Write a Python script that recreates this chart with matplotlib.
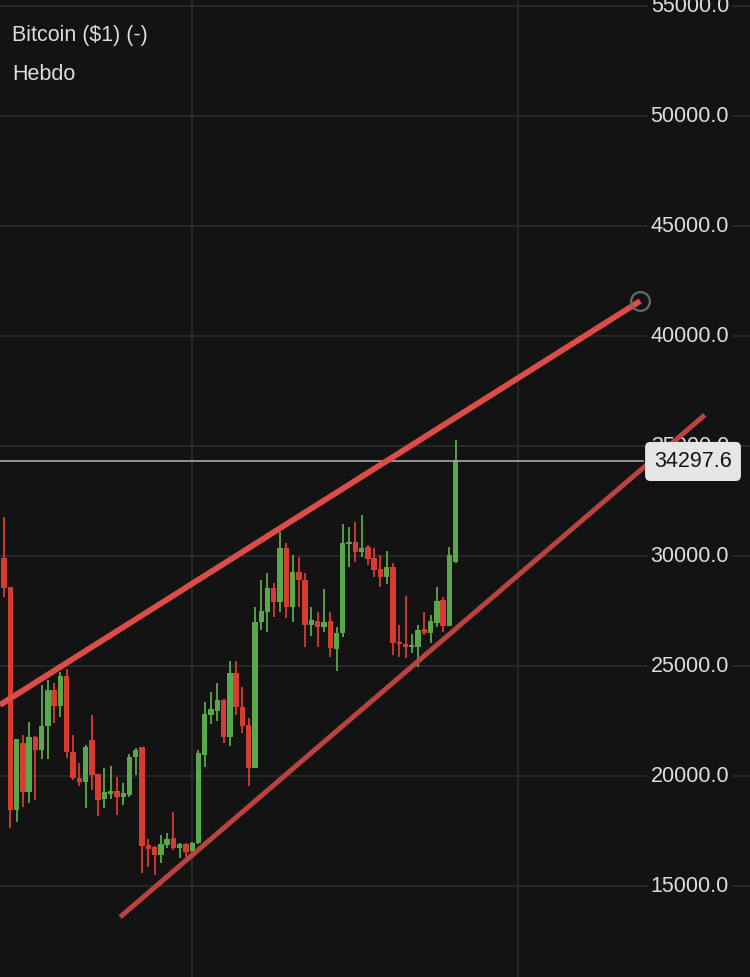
import matplotlib
matplotlib.use("Agg")
import matplotlib.pyplot as plt
import numpy as np

# ---------------- data ----------------
title = "Bitcoin ($1) (-)"
subtitle = "Hebdo"

opens = [29910, 28590, 18455, 21500, 19270, 21770, 21180, 22270, 23910, 23180,
         24550, 21090, 19910, 19730, 21640, 20090, 18955, 19180, 19320, 19045,
         19140, 20865, 21320, 16865, 16770, 16410, 16865, 17180, 16730, 16910,
         16590, 16955, 20955, 22770, 22950, 23450, 21770, 24680, 23140, 22320,
         20360, 27000, 27450, 28545, 27910, 30360, 27680, 29270, 28910, 26860,
         27045, 26770, 27045, 25770, 26500, 30545, 30640, 30180, 30410, 29910,
         29410, 29045, 29500, 26090, 26000, 25860, 25860, 26680, 26500, 26950,
         28000, 26820, 29730]
highs = [31770, 28590, 21700, 21860, 22450, 21800, 24140, 24360, 24230, 24730,
         24860, 21860, 20590, 21410, 22770, 20090, 20360, 20450, 19955, 19680,
         21000, 21270, 21320, 17140, 16800, 17320, 17410, 18360, 16950, 16950,
         17000, 21180, 23360, 23800, 24250, 23500, 25250, 25230, 24045, 22640,
         27680, 28910, 29230, 28770, 31090, 30590, 30045, 29950, 29230, 27680,
         27450, 28500, 27450, 26770, 31450, 31320, 31545, 31860, 30500, 30360,
         30045, 30230, 29680, 26860, 28180, 26450, 26860, 27450, 27320, 28590,
         28140, 30410, 35270]
lows = [28140, 17640, 17910, 18590, 18770, 18900, 20770, 20770, 22410, 22680,
        20820, 19820, 19545, 18545, 19360, 18180, 18545, 18955, 18230, 18680,
        19045, 20045, 15590, 15865, 15500, 16045, 16730, 16640, 16270, 16320,
        16450, 16910, 20410, 22360, 22500, 21500, 21360, 22770, 21950, 19545,
        20360, 26640, 26545, 27230, 27450, 27180, 27000, 27680, 25860, 26360,
        25860, 26545, 25410, 24770, 26320, 29500, 29730, 29950, 29590, 29045,
        28590, 28730, 25500, 25410, 25360, 25600, 24950, 26410, 26045, 26770,
        26545, 26820, 29680]
closes = [28545, 18455, 21680, 19270, 21770, 21180, 22270, 23910, 23180, 24550,
          21090, 19910, 19730, 21320, 20045, 18910, 19270, 19320, 19045, 19230,
          20865, 21180, 16820, 16680, 16410, 16910, 17140, 16730, 16910, 16545,
          16955, 21045, 22820, 23045, 23450, 21770, 24680, 23140, 22270, 20360,
          27000, 27500, 28545, 27910, 30360, 27680, 29270, 28910, 26860, 27090,
          26770, 27000, 25820, 26500, 30590, 30640, 30180, 30360, 29860, 29360,
          29045, 29500, 26045, 26000, 25860, 25950, 26640, 26500, 27045, 27950,
          26820, 30045, 34297.6]
last_price = 34297.6

y_ticks = [15000, 20000, 25000, 30000, 35000, 40000, 45000, 50000, 55000]
year_start_idx = [30, 82]

upper_line_x = [-0.64, 101.4]
upper_line_y = [23230, 41590]
lower_line_x = [18.5, 111.7]
lower_line_y = [13590, 36410]

# ---------------- style ----------------
BG = "#131313"
GREEN = "#5aa84c"
RED = "#d83b2f"
GRID = "#2c2c2f"
TXT = "#dedede"
FONT = ["Liberation Sans", "DejaVu Sans"]
plt.rcParams["font.family"] = FONT

fig = plt.figure(figsize=(7.5, 9.77), dpi=100, facecolor=BG)
ax = fig.add_axes([0, 0, 1, 1], facecolor=BG)
ax.set_xlim(-0.638, 118.91)
ax.set_ylim(10864, 55273)
for s in ax.spines.values():
    s.set_visible(False)

ax.set_yticks(y_ticks)
ax.set_xticks(year_start_idx)
ax.grid(True, color=GRID, linewidth=1.2, zorder=0)
ax.tick_params(length=0, labelleft=False, labelbottom=False)
ax.set_axisbelow(True)

# candles
o = np.array(opens, float)
h = np.array(highs, float)
l = np.array(lows, float)
c = np.array(closes, float)
idx = np.arange(len(o))
up = c >= o
cols = np.where(up, GREEN, RED)
ax.vlines(idx, l, h, colors=cols, linewidth=1.3, zorder=2)
body_bot = np.minimum(o, c)
body_h = np.maximum(np.abs(c - o), 70)
ax.bar(idx, body_h, bottom=body_bot, width=0.86, color=cols, linewidth=0, zorder=3)

# y tick labels (inside, right)
for v in y_ticks:
    ax.text(729 / 750, v, f"{v:.1f}", transform=ax.get_yaxis_transform(),
            ha="right", va="center", fontsize=15.5, color=TXT, zorder=4,
            bbox=dict(boxstyle="square,pad=0.15", fc=BG, ec="none"))

# last price line and label
ax.axhline(last_price, xmin=0, xmax=643 / 750, color="#a8a8a8", linewidth=1.2, zorder=4)
ax.text(693 / 750, last_price, f"{last_price:.1f}", transform=ax.get_yaxis_transform(),
        ha="center", va="center", fontsize=15.5, color="#151515", zorder=7,
        bbox=dict(boxstyle="round,pad=0.42,rounding_size=0.25", fc="#e6e6e6", ec="none"))

# trend lines
ax.plot(upper_line_x, upper_line_y, color="#dc4d48", linewidth=4.2,
        solid_capstyle="butt", zorder=5)
ax.plot(lower_line_x, lower_line_y, color="#b9443f", linewidth=3.6,
        solid_capstyle="butt", zorder=5)
ax.plot([upper_line_x[1]], [upper_line_y[1]], marker="o", ms=13.5, mfc="none",
        mec="#6a6a6a", mew=1.6, zorder=6)

# legend texts
ax.text(12 / 750, 1 - 35 / 977, title, transform=ax.transAxes, ha="left",
        va="center", fontsize=15.5, color=TXT, zorder=8)
ax.text(12 / 750, 1 - 75 / 977, subtitle, transform=ax.transAxes, ha="left",
        va="center", fontsize=15.5, color=TXT, zorder=8)

fig.savefig("out.png", dpi=100, facecolor=BG)
